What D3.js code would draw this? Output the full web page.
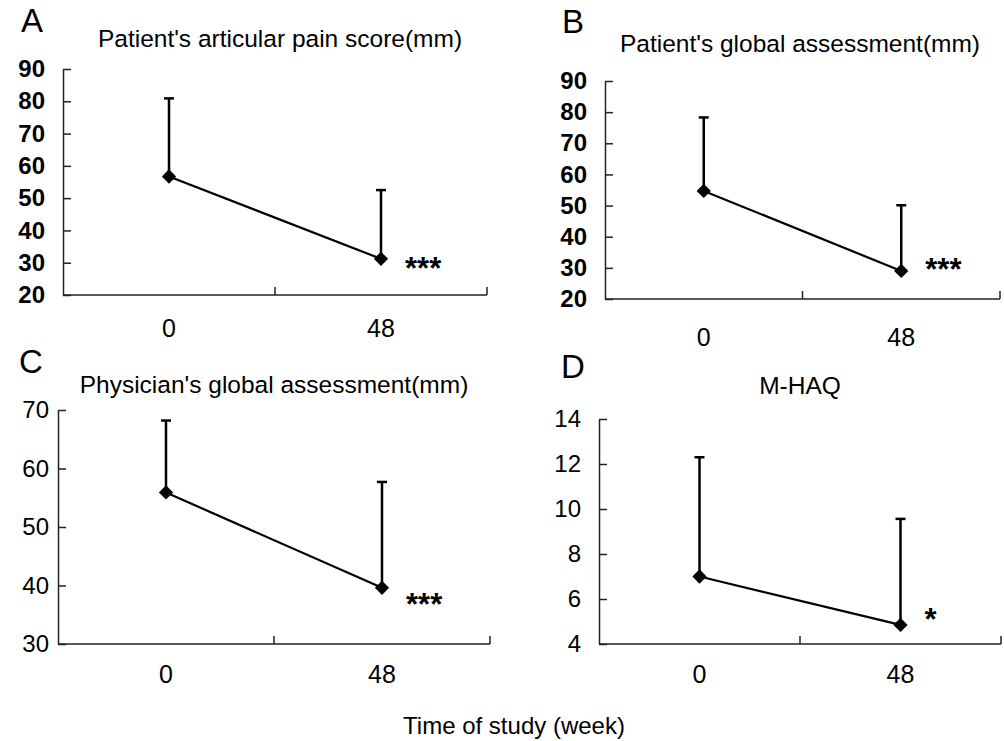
<!DOCTYPE html>
<meta charset="utf-8">
<style>
body{
    margin: 0;
    background: #fff;
    font-family: "Liberation Sans", Arial, sans-serif;
}
.tick text { fill: #000; }
.title { font-size: 24.5px; }
.letter { font-size: 33px; }
</style>
<body>
<div id="chart"></div>
<script src="https://d3js.org/d3.v7.min.js"></script>
<script>

// time points (week)
var weeks = ["0", "48"];

// A: patient's articular pain score (mm)
var painMean = [56.7, 31.2];
var painSD   = [24.2, 21.3];
// B: patient's global assessment (mm)
var ptGlobalMean = [54.7, 29.0];
var ptGlobalSD   = [23.6, 21.1];
// C: physician's global assessment (mm)
var drGlobalMean = [55.9, 39.6];
var drGlobalSD   = [12.3, 18.1];
// D: M-HAQ
var haqMean = [7.0, 4.85];
var haqSD   = [5.3, 4.71];

var vasTicks = [20, 30, 40, 50, 60, 70, 80, 90];
var drTicks  = [30, 40, 50, 60, 70];
var haqTicks = [4, 6, 8, 10, 12, 14];

var panels = [
  {letter: "A", title: "Patient's articular pain score(mm)", mean: painMean, sd: painSD,
   ticks: vasTicks, stars: "***", bold: true,
   left: 63, right: 487, top: 69, bottom: 295, pad: 18, xpad: 24,
   lx: 21, ly: 32, tx: 280, ty: 47, starDy: 3},
  {letter: "B", title: "Patient's global assessment(mm)", mean: ptGlobalMean, sd: ptGlobalSD,
   ticks: vasTicks, stars: "***", bold: true,
   left: 605, right: 1000, top: 81, bottom: 299, pad: 18, xpad: 29,
   lx: 562, ly: 33, tx: 800, ty: 52, starDy: -8},
  {letter: "C", title: "Physician's global assessment(mm)", mean: drGlobalMean, sd: drGlobalSD,
   ticks: drTicks, stars: "***", bold: false,
   left: 58, right: 490, top: 410, bottom: 644, pad: 9, xpad: 21,
   lx: 19, ly: 373, tx: 274, ty: 393, starDy: 10},
  {letter: "D", title: "M-HAQ", mean: haqMean, sd: haqSD,
   ticks: haqTicks, stars: "*", bold: false,
   left: 599, right: 1001, top: 419, bottom: 644, pad: 18, xpad: 21,
   lx: 561, ly: 378, tx: 800, ty: 394, starDy: -12}
];

var svg = d3.select("#chart")
  .append("svg")
    .attr("width", 1004)
    .attr("height", 741);

panels.forEach(function(p) {
  var g = svg.append("g");

  var x = d3.scaleBand()
      .domain(weeks)
      .range([p.left, p.right]);

  var y = d3.scaleLinear()
      .domain(d3.extent(p.ticks))
      .range([p.bottom, p.top]);

  // y axis, ticks pointing inward
  g.append("g")
      .attr("transform", "translate(" + p.left + ",0)")
      .call(d3.axisLeft(y).tickValues(p.ticks).tickSizeInner(-8).tickSizeOuter(0).tickPadding(p.pad))
      .call(function(a) {
        a.select(".domain").attr("stroke", "#222").attr("stroke-width", 1.5);
        a.selectAll(".tick line").attr("stroke", "#222").attr("stroke-width", 1.5);
        a.selectAll(".tick text")
          .style("font-size", "24px")
          .style("font-weight", p.bold ? "bold" : "normal");
      });

  // x labels
  g.append("g")
      .attr("transform", "translate(0," + p.bottom + ")")
      .call(d3.axisBottom(x).tickSize(0).tickPadding(p.xpad))
      .call(function(a) {
        a.select(".domain").remove();
        a.selectAll(".tick text").style("font-size", "25px");
      });

  // x axis line with upward ticks at band edge and end
  g.append("line")
      .attr("x1", p.left).attr("x2", p.right)
      .attr("y1", p.bottom).attr("y2", p.bottom)
      .attr("stroke", "#222").attr("stroke-width", 1.5);
  g.selectAll(".xtick")
    .data([x(weeks[1]), x.range()[1]])
    .enter().append("line")
      .attr("x1", function(d) { return d; })
      .attr("x2", function(d) { return d; })
      .attr("y1", p.bottom)
      .attr("y2", p.bottom - 8)
      .attr("stroke", "#222").attr("stroke-width", 1.5);

  var pts = weeks.map(function(w, i) {
    return {x: x(w) + x.bandwidth() / 2, m: p.mean[i], s: p.sd[i]};
  });

  // upper error bars
  g.selectAll(".err")
    .data(pts)
    .enter().append("line")
      .attr("x1", function(d) { return d.x; })
      .attr("x2", function(d) { return d.x; })
      .attr("y1", function(d) { return y(d.m); })
      .attr("y2", function(d) { return y(d.m + d.s); })
      .attr("stroke", "#000").attr("stroke-width", 2.5);
  g.selectAll(".cap")
    .data(pts)
    .enter().append("line")
      .attr("x1", function(d) { return d.x - 5; })
      .attr("x2", function(d) { return d.x + 5; })
      .attr("y1", function(d) { return y(d.m + d.s); })
      .attr("y2", function(d) { return y(d.m + d.s); })
      .attr("stroke", "#000").attr("stroke-width", 2.5);

  g.append("path")
      .datum(pts)
      .attr("fill", "none")
      .attr("stroke", "#000")
      .attr("stroke-width", 2.2)
      .attr("d", d3.line().x(function(d) { return d.x; }).y(function(d) { return y(d.m); }));

  g.selectAll(".pt")
    .data(pts)
    .enter().append("path")
      .attr("transform", function(d) { return "translate(" + d.x + "," + y(d.m) + ")"; })
      .attr("d", d3.symbol().type(d3.symbolDiamond2).size(130))
      .attr("fill", "#000");

  var last = pts[pts.length - 1];
  g.append("text")
      .attr("x", last.x + 24)
      .attr("y", y(last.m) + p.starDy)
      .attr("dy", "0.55em")
      .style("font-size", "31px")
      .style("font-weight", "bold")
      .text(p.stars);

  g.append("text")
      .attr("class", "title")
      .attr("x", p.tx).attr("y", p.ty)
      .attr("text-anchor", "middle")
      .text(p.title);

  g.append("text")
      .attr("class", "letter")
      .attr("x", p.lx).attr("y", p.ly)
      .text(p.letter);
});

svg.append("text")
    .attr("x", 514)
    .attr("y", 734)
    .attr("text-anchor", "middle")
    .style("font-size", "24px")
    .text("Time of study (week)");

</script>
</body>
